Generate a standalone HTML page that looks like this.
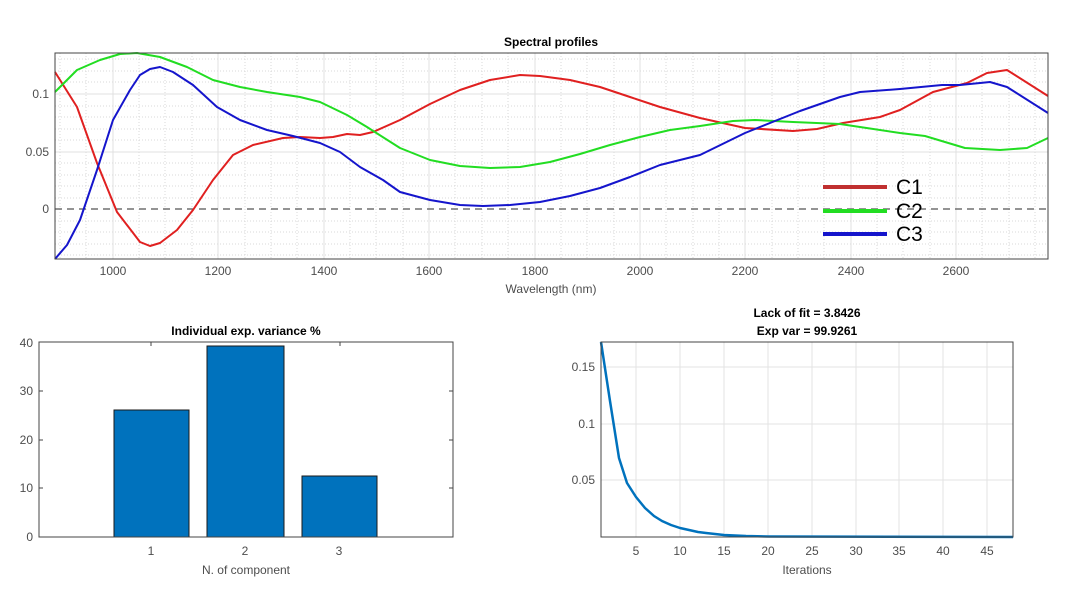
<!DOCTYPE html>
<html><head><meta charset="utf-8"><style>
html,body{margin:0;padding:0;background:#fff;}
svg{display:block;font-family:"Liberation Sans",Arial,sans-serif;}
.t{font-size:12px;fill:#4d4d4d;}
.b{font-size:12px;font-weight:bold;fill:#000;}
</style></head><body>
<svg width="1084" height="604" viewBox="0 0 1084 604">
<rect width="1084" height="604" fill="#fff"/>
<!-- TOP PLOT -->
<g id="minor" stroke="#d8d8d8" stroke-width="1" stroke-dasharray="1,2">
<line x1="60" y1="53" x2="60" y2="259"/><line x1="86" y1="53" x2="86" y2="259"/>
<line x1="139" y1="53" x2="139" y2="259"/><line x1="165" y1="53" x2="165" y2="259"/><line x1="192" y1="53" x2="192" y2="259"/>
<line x1="245" y1="53" x2="245" y2="259"/><line x1="271" y1="53" x2="271" y2="259"/><line x1="297" y1="53" x2="297" y2="259"/>
<line x1="350" y1="53" x2="350" y2="259"/><line x1="376" y1="53" x2="376" y2="259"/><line x1="403" y1="53" x2="403" y2="259"/>
<line x1="455" y1="53" x2="455" y2="259"/><line x1="482" y1="53" x2="482" y2="259"/><line x1="508" y1="53" x2="508" y2="259"/>
<line x1="561" y1="53" x2="561" y2="259"/><line x1="587" y1="53" x2="587" y2="259"/><line x1="614" y1="53" x2="614" y2="259"/>
<line x1="666" y1="53" x2="666" y2="259"/><line x1="693" y1="53" x2="693" y2="259"/><line x1="719" y1="53" x2="719" y2="259"/>
<line x1="772" y1="53" x2="772" y2="259"/><line x1="798" y1="53" x2="798" y2="259"/><line x1="824" y1="53" x2="824" y2="259"/>
<line x1="877" y1="53" x2="877" y2="259"/><line x1="903" y1="53" x2="903" y2="259"/><line x1="930" y1="53" x2="930" y2="259"/>
<line x1="982" y1="53" x2="982" y2="259"/><line x1="1009" y1="53" x2="1009" y2="259"/><line x1="1035" y1="53" x2="1035" y2="259"/>
<line x1="55" y1="59" x2="1048" y2="59"/><line x1="55" y1="71" x2="1048" y2="71"/><line x1="55" y1="82" x2="1048" y2="82"/>
<line x1="55" y1="106" x2="1048" y2="106"/><line x1="55" y1="117" x2="1048" y2="117"/><line x1="55" y1="129" x2="1048" y2="129"/><line x1="55" y1="140" x2="1048" y2="140"/>
<line x1="55" y1="163" x2="1048" y2="163"/><line x1="55" y1="175" x2="1048" y2="175"/><line x1="55" y1="186" x2="1048" y2="186"/><line x1="55" y1="198" x2="1048" y2="198"/>
<line x1="55" y1="221" x2="1048" y2="221"/><line x1="55" y1="232" x2="1048" y2="232"/><line x1="55" y1="244" x2="1048" y2="244"/><line x1="55" y1="255" x2="1048" y2="255"/>
</g>
<g stroke="#e0e0e0" stroke-width="1">
<line x1="113" y1="53" x2="113" y2="259"/><line x1="218" y1="53" x2="218" y2="259"/><line x1="324" y1="53" x2="324" y2="259"/>
<line x1="429" y1="53" x2="429" y2="259"/><line x1="535" y1="53" x2="535" y2="259"/><line x1="640" y1="53" x2="640" y2="259"/>
<line x1="745" y1="53" x2="745" y2="259"/><line x1="851" y1="53" x2="851" y2="259"/><line x1="956" y1="53" x2="956" y2="259"/>
<line x1="55" y1="94" x2="1048" y2="94"/><line x1="55" y1="152" x2="1048" y2="152"/>
</g>
<line x1="55" y1="209" x2="1048" y2="209" stroke="#555" stroke-width="1.3" stroke-dasharray="7,5"/>
<g fill="none" stroke-width="2" stroke-linejoin="round">
<polyline stroke="#e02020" points="55,72 77,107 97,163 117,212 140,242 150,246 160,243 177,230 193,210 213,180 233,155 253,145 283,138 300,137 320,138 333,137 347,134 360,135 373,132 400,120 430,104 460,90 490,80 520,75 540,76 570,80 600,87 630,97 660,107 700,118 745,128 793,131 817,129 843,123 880,117 900,110 933,92 967,83 987,73 1007,70 1048,96"/>
<polyline stroke="#22dd22" points="55,92 77,70 100,60 120,54 137,53 160,57 187,67 213,80 240,87 267,92 300,97 320,102 347,115 367,127 400,148 430,160 460,166 490,168 520,167 550,162 580,154 610,145 640,137 670,130 700,126 733,121 755,120 793,122 840,124 860,127 900,133 925,136 965,148 1000,150 1027,148 1048,138"/>
<polyline stroke="#1515cc" points="55,259 67,245 80,220 97,170 113,120 130,90 140,75 150,69 160,67 173,72 193,85 217,107 240,120 267,130 293,136 320,143 340,152 360,167 383,180 400,192 430,200 460,205 483,206 510,205 540,202 570,196 600,188 630,177 660,165 700,155 745,133 800,111 840,97 860,92 900,89 942,85 960,85 990,82 1007,87 1048,113"/>
</g>
<rect x="55" y="53" width="993" height="206" fill="none" stroke="#444" stroke-width="1"/>
<g class="t" text-anchor="end">
<text x="49" y="98">0.1</text><text x="49" y="156">0.05</text><text x="49" y="213">0</text>
</g>
<g class="t" text-anchor="middle">
<text x="113" y="275">1000</text><text x="218" y="275">1200</text><text x="324" y="275">1400</text><text x="429" y="275">1600</text>
<text x="535" y="275">1800</text><text x="640" y="275">2000</text><text x="745" y="275">2200</text><text x="851" y="275">2400</text><text x="956" y="275">2600</text>
<text x="551" y="293">Wavelength (nm)</text>
</g>
<text class="b" x="551" y="46" text-anchor="middle">Spectral profiles</text>
<g stroke-width="4">
<line x1="823" y1="187" x2="887" y2="187" stroke="#c03030"/>
<line x1="823" y1="211" x2="887" y2="211" stroke="#22dd22"/>
<line x1="823" y1="234" x2="887" y2="234" stroke="#1515cc"/>
</g>
<g font-size="21" fill="#000">
<text x="896" y="194">C1</text><text x="896" y="218">C2</text><text x="896" y="241">C3</text>
</g>
<!-- BAR PLOT -->
<g fill="#0072bd" stroke="#1a1a1a" stroke-width="1">
<rect x="114" y="410" width="75" height="127"/>
<rect x="207" y="346" width="77" height="191"/>
<rect x="302" y="476" width="75" height="61"/>
</g>
<rect x="39" y="342" width="414" height="195" fill="none" stroke="#444" stroke-width="1"/>
<g stroke="#444"><line x1="39" y1="488" x2="43" y2="488"/><line x1="39" y1="440" x2="43" y2="440"/><line x1="39" y1="391" x2="43" y2="391"/>
<line x1="449" y1="488" x2="453" y2="488"/><line x1="449" y1="440" x2="453" y2="440"/><line x1="449" y1="391" x2="453" y2="391"/>
<line x1="151" y1="342" x2="151" y2="346"/><line x1="340" y1="342" x2="340" y2="346"/></g>
<g class="t" text-anchor="end">
<text x="33" y="541">0</text><text x="33" y="492">10</text><text x="33" y="444">20</text><text x="33" y="395">30</text><text x="33" y="347">40</text>
</g>
<g class="t" text-anchor="middle">
<text x="151" y="555">1</text><text x="245" y="555">2</text><text x="339" y="555">3</text>
<text x="246" y="574">N. of component</text>
</g>
<text class="b" x="246" y="335" text-anchor="middle">Individual exp. variance %</text>
<!-- ITERATION PLOT -->
<g stroke="#e3e3e3" stroke-width="1">
<line x1="636" y1="342" x2="636" y2="537"/><line x1="680" y1="342" x2="680" y2="537"/><line x1="724" y1="342" x2="724" y2="537"/>
<line x1="768" y1="342" x2="768" y2="537"/><line x1="812" y1="342" x2="812" y2="537"/><line x1="856" y1="342" x2="856" y2="537"/>
<line x1="899" y1="342" x2="899" y2="537"/><line x1="943" y1="342" x2="943" y2="537"/><line x1="987" y1="342" x2="987" y2="537"/>
<line x1="601" y1="367" x2="1013" y2="367"/><line x1="601" y1="424" x2="1013" y2="424"/><line x1="601" y1="480" x2="1013" y2="480"/>
</g>
<polyline fill="none" stroke="#0072bd" stroke-width="2.5" stroke-linejoin="round" points="601,342 610,401 619,458 627,483 636,497 645,508 654,516 662,521 671,525 680,528 689,530 698,532 706,533 715,534 724,535 746,536 768,536.5 1013,537"/>
<rect x="601" y="342" width="412" height="195" fill="none" stroke="#444" stroke-width="1"/>
<g class="t" text-anchor="end">
<text x="595" y="371">0.15</text><text x="595" y="428">0.1</text><text x="595" y="484">0.05</text>
</g>
<g class="t" text-anchor="middle">
<text x="636" y="555">5</text><text x="680" y="555">10</text><text x="724" y="555">15</text><text x="768" y="555">20</text>
<text x="812" y="555">25</text><text x="856" y="555">30</text><text x="899" y="555">35</text><text x="943" y="555">40</text><text x="987" y="555">45</text>
<text x="807" y="574">Iterations</text>
</g>
<text class="b" x="807" y="317" text-anchor="middle">Lack of fit = 3.8426</text>
<text class="b" x="807" y="335" text-anchor="middle">Exp var = 99.9261</text>
</svg>
</body></html>
